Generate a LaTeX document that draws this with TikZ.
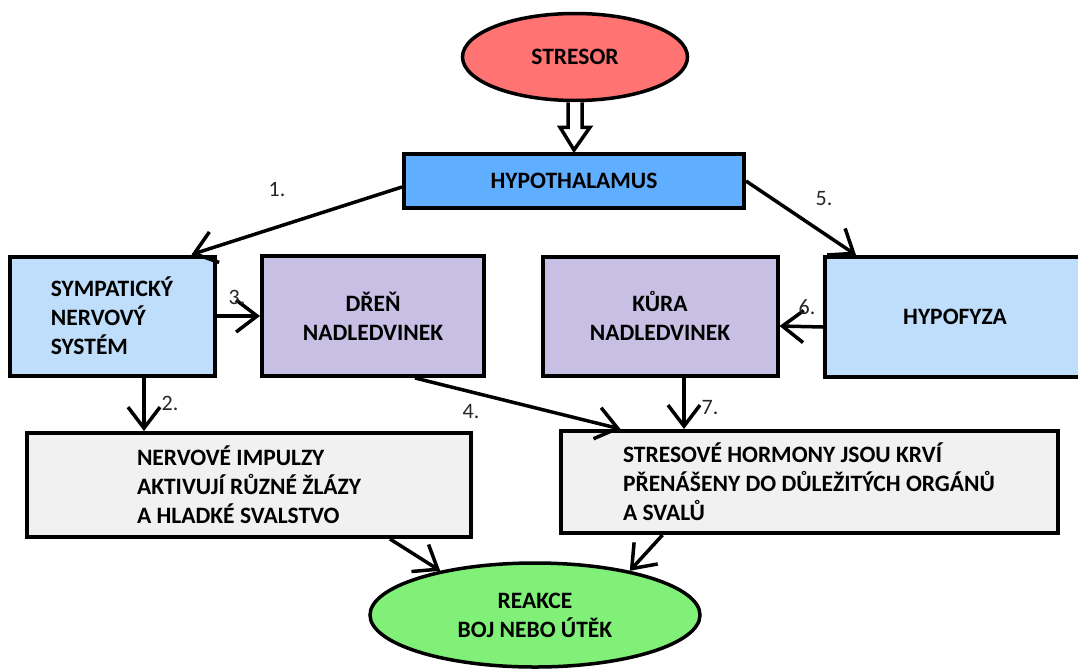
\documentclass[tikz,border=0pt]{standalone}
\usepackage{fontspec}
\setmainfont{Carlito}
\usepackage{tikz}
\usetikzlibrary{calc, shapes, arrows.meta}

\definecolor{stresred}{HTML}{FF7373}
\definecolor{hypoblue}{HTML}{60AEFF}
\definecolor{lightblue}{HTML}{BFDEFB}
\definecolor{lavender}{HTML}{C8BFE4}
\definecolor{palegray}{HTML}{F1F1F1}
\definecolor{reakgreen}{HTML}{80F078}

\begin{document}
\begin{tikzpicture}[x=1pt, y=-1pt,
		box/.style={rectangle, draw, line width=4pt, inner sep=0pt, font=\bfseries\fontsize{23.5}{29}\selectfont},
		oval/.style={ellipse, draw, line width=3.5pt, inner sep=0pt, font=\bfseries\fontsize{23.5}{29}\selectfont},
		arr/.style={line width=3.5pt, -{Straight Barb[length=21pt, width=32pt]}},
		num/.style={font=\fontsize{22}{26}\selectfont, text=black!85}]
			\useasboundingbox (0,0) rectangle (1078,670);
			
			\node(stresor) [oval, fill=stresred, minimum width=225pt, minimum height=87pt] at (575,57){STRESOR};
			\node(hypothal) [box, fill=hypoblue, minimum width=340pt, minimum height=54pt] at (574,181){HYPOTHALAMUS};
			\node(sympat) [box, fill=lightblue, minimum width=205pt, minimum height=119pt, align=left] at (112,316){SYMPATICKÝ\\NERVOVÝ\\SYSTÉM};
			\node(dren) [box, fill=lavender, minimum width=222pt, minimum height=120pt, align=center] at (373,316){DŘEŇ\\NADLEDVINEK};
			\node(kura) [box, fill=lavender, minimum width=235pt, minimum height=119pt, align=center] at (660,316){KŮRA\\NADLEDVINEK};
			\node(hypofyza) [box, fill=lightblue, minimum width=260pt, minimum height=120pt] at (955,317){HYPOFYZA};
			\node(nervove) [box, fill=palegray, minimum width=444pt, minimum height=104pt, align=left] at (249,485){NERVOVÉ IMPULZY\\AKTIVUJÍ RŮZNÉ ŽLÁZY\\A HLADKÉ SVALSTVO};
			\node(stresove) [box, fill=palegray, minimum width=497pt, minimum height=102pt, align=left] at (809,482){STRESOVÉ HORMONY JSOU KRVÍ\\PŘENÁŠENY DO DŮLEŽITÝCH ORGÁNŮ\\A SVALŮ};
			\node(reakce) [oval, fill=reakgreen, minimum width=330pt, minimum height=104pt, align=center] at (535,615){REAKCE\\BOJ NEBO ÚTĚK};
			
			\draw[line width=3.5pt, fill=white] ($(stresor.south)+(-7,0)$) -- ($(stresor.south)+(-7,25)$) -- ($(stresor.south)+(-15,25)$) -- ($(hypothal.north)+(0,-2)$) -- ($(stresor.south)+(15,25)$) -- ($(stresor.south)+(7,25)$) -- ($(stresor.south)+(7,0)$);
			
			\draw[arr] ([yshift=-6pt]hypothal.west) -- ([xshift=-25pt]sympat.north east);
			\draw[arr] (hypothal.east) -- ([xshift=33pt]hypofyza.north west);
			\draw[arr] (sympat.east) -- (dren.west);
			\draw[arr] ([yshift=-10pt]hypofyza.west) -- ([yshift=-10pt]kura.east);
			\draw[arr] ([xshift=32pt]sympat.south) -- ([xshift=32pt]sympat.south |- nervove.north);
			\draw[arr] ([xshift=42pt]dren.south) -- ([xshift=62pt]stresove.north west);
			\draw[arr] ([xshift=24pt]kura.south) -- ([xshift=24pt]kura.south |- stresove.north);
			\draw[arr] ([xshift=-83pt]nervove.south east) -- (reakce.155);
			\draw[arr] ([xshift=104pt]stresove.south west) -- (reakce.25);
			
			\node(n1) [num] at (277,190){1.};
			\node(n2) [num] at (170,403){2.};
			\node(n3) [num] at (237,297){3.};
			\node(n4) [num] at (471,412){4.};
			\node(n5) [num] at (824,199){5.};
			\node(n6) [num] at (807,307){6.};
			\node(n7) [num] at (710,408){7.};
			
		\end{tikzpicture}
\end{document}
